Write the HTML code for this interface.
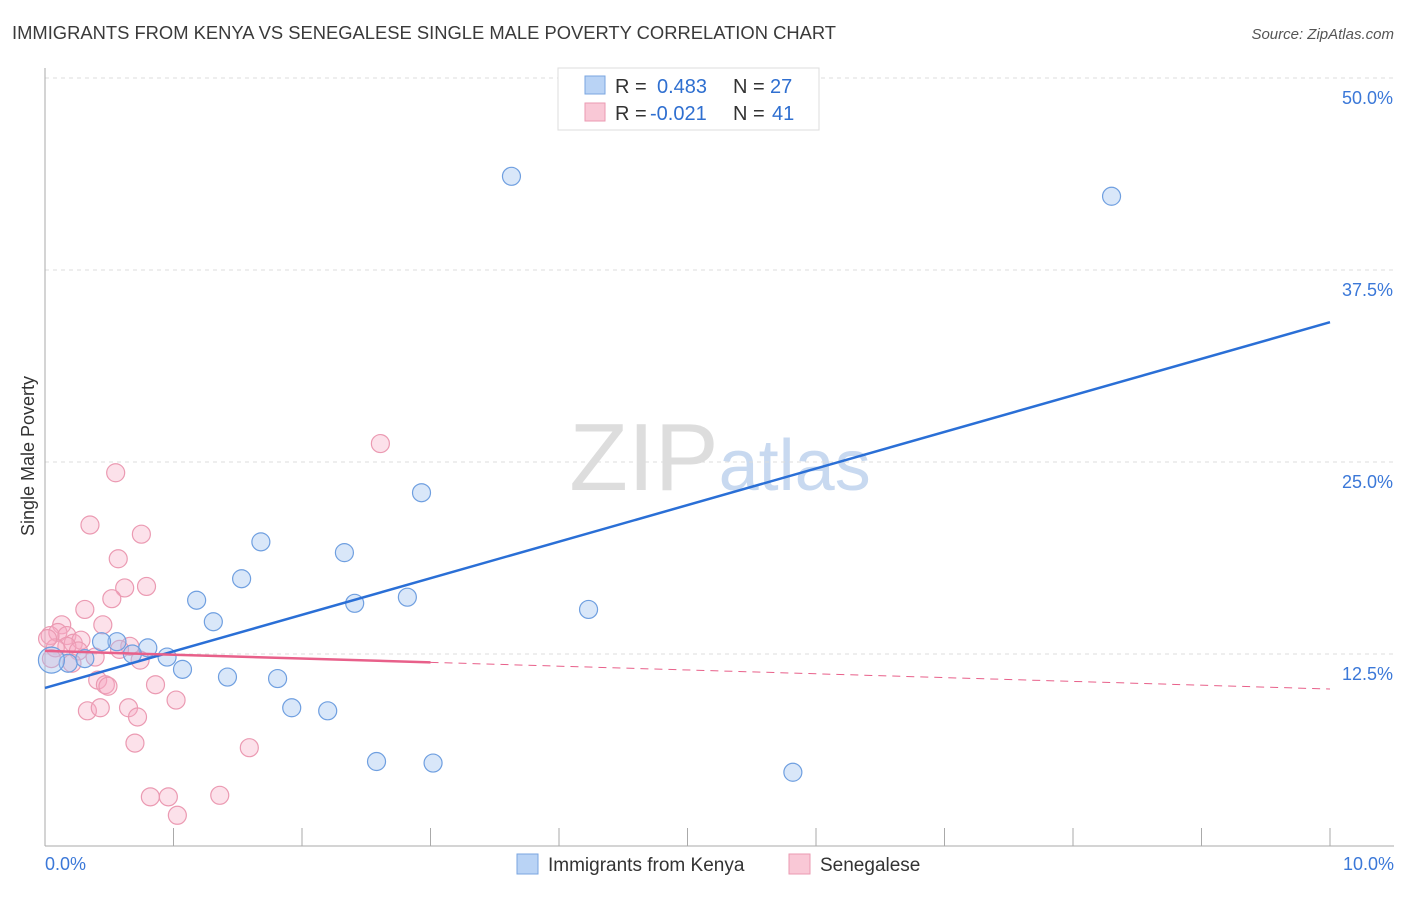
<!DOCTYPE html>
<html><head><meta charset="utf-8"><style>
body{margin:0;background:#fff;font-family:"Liberation Sans",sans-serif;}
svg text{font-family:"Liberation Sans",sans-serif;}
</style></head><body>
<svg id="chart" width="1406" height="892" xmlns="http://www.w3.org/2000/svg">
<text x="12" y="39" font-size="18" fill="#3a3a3a" textLength="824" lengthAdjust="spacingAndGlyphs">IMMIGRANTS FROM KENYA VS SENEGALESE SINGLE MALE POVERTY CORRELATION CHART</text>
<text x="1394" y="39" font-size="15" fill="#555" font-style="italic" text-anchor="end">Source: ZipAtlas.com</text>
<text x="720" y="490" font-size="96" fill="#ddd" text-anchor="middle" font-family="Liberation Serif">ZIP<tspan fill="#c8d9f0" font-family="Liberation Sans" font-size="72">atlas</tspan></text>
<text transform="translate(34,456) rotate(-90)" font-size="18" fill="#333" text-anchor="middle">Single Male Poverty</text>
<g id="grid"></g><g id="axes"></g><g id="marks"></g>
<g>
<rect x="558" y="68" width="261" height="62" fill="#fff" stroke="#ddd"/>
<rect x="585" y="76" width="20" height="18" fill="#b9d3f5" stroke="#7aa6e0"/>
<rect x="585" y="103" width="20" height="18" fill="#f9c8d6" stroke="#eb9ab2"/>
<text x="615" y="93" font-size="20" fill="#333">R = </text><text x="657" y="93" font-size="20" fill="#2f6fd0">0.483</text>
<text x="733" y="93" font-size="20" fill="#333">N = </text><text x="770" y="93" font-size="20" fill="#2f6fd0">27</text>
<text x="615" y="120" font-size="20" fill="#333">R = </text><text x="650" y="120" font-size="20" fill="#2f6fd0">-0.021</text>
<text x="733" y="120" font-size="20" fill="#333">N = </text><text x="772" y="120" font-size="20" fill="#2f6fd0">41</text>
</g>
<g>
<rect x="517" y="854" width="21" height="20" fill="#b9d3f5" stroke="#7aa6e0"/>
<text x="548" y="871" font-size="19" fill="#333">Immigrants from Kenya</text>
<rect x="789" y="854" width="21" height="20" fill="#f9c8d6" stroke="#eb9ab2"/>
<text x="820" y="871" font-size="19" fill="#333">Senegalese</text>
</g>
</svg>
<script>
const xTicks=[0,1,2,3,4,5,6,7,8,9,10];
const yTicks=[12.5,25,37.5,50];
const kenyaX=[3.63,8.30,2.93,1.68,2.33,1.53,1.18,2.41,2.82,4.23,1.31,0.56,0.44,0.80,0.68,0.95,0.31,0.18,0.05,1.07,1.42,1.81,1.92,2.20,2.58,3.02,5.82];
const kenyaY=[43.6,42.3,23.0,19.8,19.1,17.4,16.0,15.8,16.2,15.4,14.6,13.3,13.3,12.9,12.5,12.3,12.2,11.9,12.1,11.5,11.0,10.9,9.0,8.8,5.5,5.4,4.8];
const senX=[2.61,0.55,0.35,0.75,0.57,0.62,0.79,0.52,0.31,0.45,0.13,0.04,0.10,0.17,0.22,0.28,0.17,0.26,0.39,0.66,0.74,0.58,0.41,0.47,0.49,0.86,1.02,0.33,0.43,0.65,0.72,0.70,1.59,0.82,0.96,1.36,1.03,0.21,0.08,0.02,0.05];
const senY=[26.2,24.3,20.9,20.3,18.7,16.8,16.9,16.1,15.4,14.4,14.4,13.7,13.9,13.7,13.2,13.4,13.0,12.7,12.3,13.0,12.1,12.8,10.8,10.5,10.4,10.5,9.5,8.8,9.0,9.0,8.4,6.7,6.4,3.2,3.2,3.3,2.0,11.9,12.9,13.5,12.2];
const kenyaFit=[10.29,34.1];
const senFit=[12.7,10.22];
const NS='http://www.w3.org/2000/svg';
const X=v=>45+v*128.5, Y=v=>846-v*15.36;
function el(p,t,a){const e=document.createElementNS(NS,t);for(const k in a)e.setAttribute(k,a[k]);p.appendChild(e);return e;}
const grid=document.getElementById('grid'),axes=document.getElementById('axes'),marks=document.getElementById('marks');
yTicks.forEach(t=>{const l=el(grid,'line',{x1:45,x2:1394,y1:Y(t),y2:Y(t),stroke:'#ddd','stroke-dasharray':'4,4'});


const tx=el(axes,'text',{x:1393,y:Y(t)+26,'font-size':18,fill:'#3b78d8','text-anchor':'end'});tx.textContent=t.toFixed(1)+'%';

});
const ax=el(axes,'line',{x1:45,x2:1394,y1:846,y2:846,stroke:'#aaa'});


const ay=el(axes,'line',{x1:45,x2:45,y1:68,y2:846,stroke:'#aaa'});


xTicks.forEach(t=>{const l=el(axes,'line',{x1:X(t),x2:X(t),y1:828,y2:846,stroke:'#aaa'});

});
[[0,'start',45],[10,'end',1394]].forEach(([t,a,x])=>{const tx=el(axes,'text',{x:x,y:870,'font-size':18,fill:'#3b78d8','text-anchor':a});tx.textContent=t.toFixed(1)+'%';

});
senX.forEach((v,i)=>{const c=el(marks,'circle',{cx:X(v),cy:Y(senY[i]),r:9,fill:'rgba(246,170,195,0.35)',stroke:'#eb9ab2','stroke-width':1.2});

});
kenyaX.forEach((v,i)=>{const c=el(marks,'circle',{cx:X(v),cy:Y(kenyaY[i]),r:i==18?13:9,fill:'rgba(160,195,240,0.4)',stroke:'#6f9fe0','stroke-width':1.2});

});
const kl=el(marks,'line',{x1:X(0),y1:Y(kenyaFit[0]),x2:X(10),y2:Y(kenyaFit[1]),stroke:'#2a6fd6','stroke-width':2.5});


const sy=x=>senFit[0]+(senFit[1]-senFit[0])*x/10;
const sl=el(marks,'line',{x1:X(0),y1:Y(sy(0)),x2:X(3),y2:Y(sy(3)),stroke:'#e8608a','stroke-width':2.5});


const sd=el(marks,'line',{x1:X(3),y1:Y(sy(3)),x2:X(10),y2:Y(sy(10)),stroke:'#e8608a','stroke-width':1,'stroke-dasharray':'8,6'});


</script>
</body></html>
